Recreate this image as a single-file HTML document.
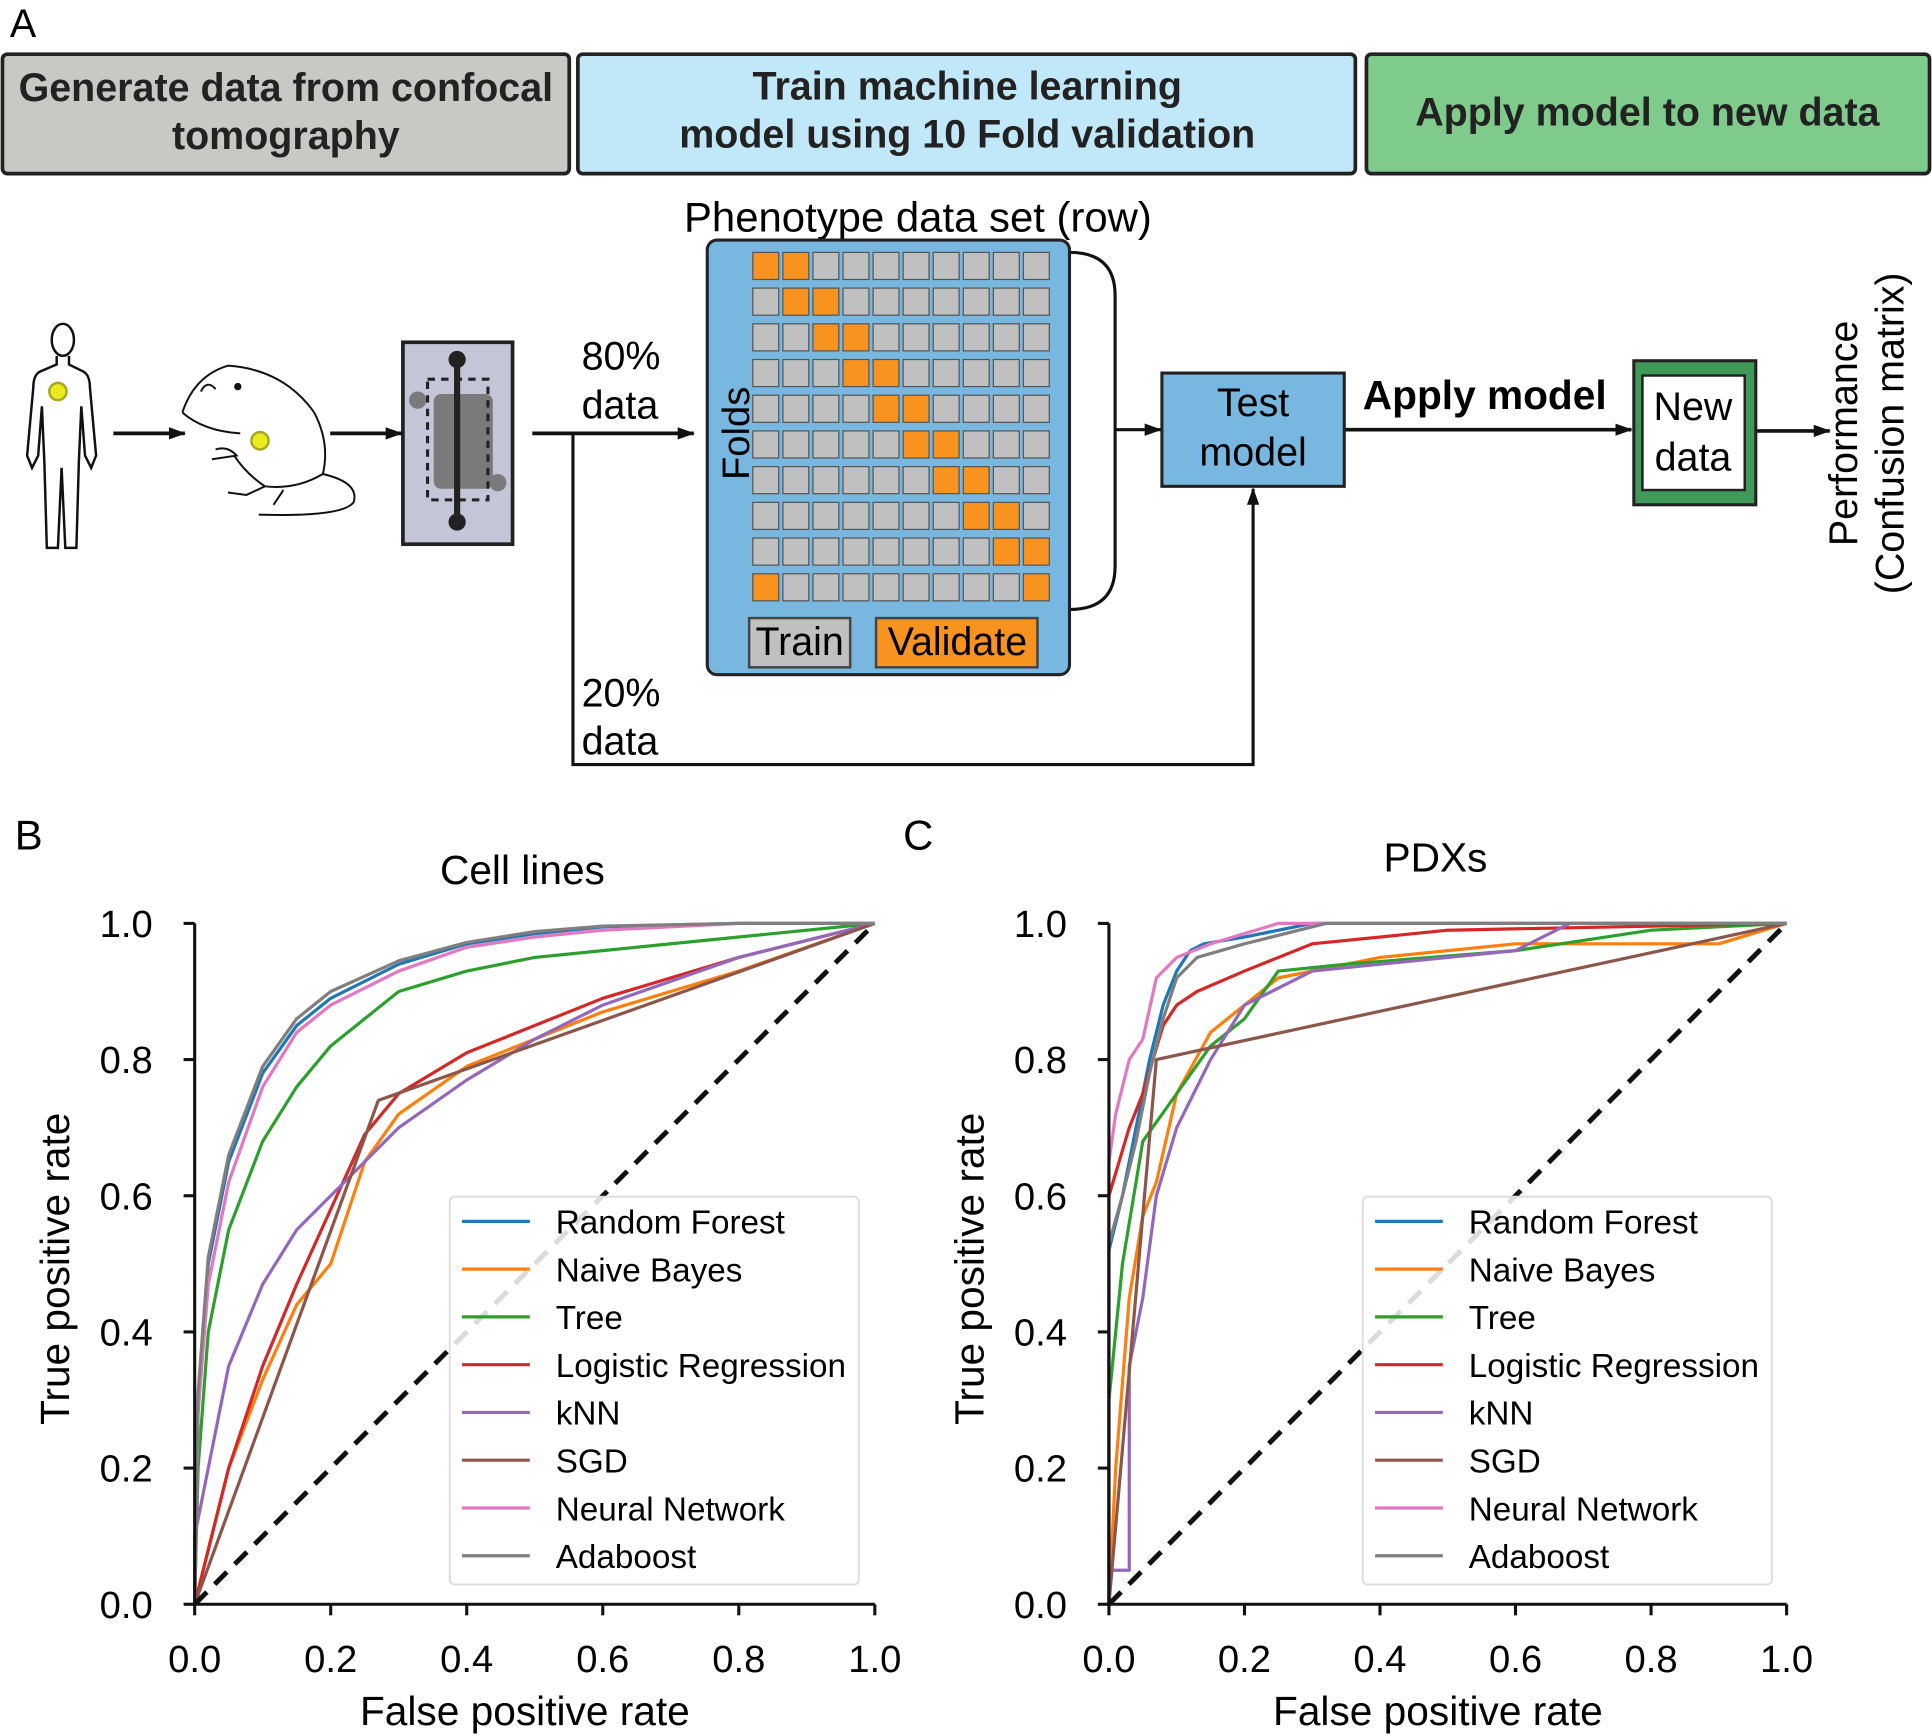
<!DOCTYPE html>
<html><head><meta charset="utf-8"><style>
html,body{margin:0;padding:0;background:#fff;}
svg{display:block;font-family:"Liberation Sans",Arial,sans-serif;}
</style></head><body>
<svg id="fig" width="1932" height="1736" viewBox="0 0 1568 1410" preserveAspectRatio="none" xmlns="http://www.w3.org/2000/svg">
<defs>
<marker id="ah" markerWidth="14" markerHeight="10" refX="13" refY="5" orient="auto" markerUnits="userSpaceOnUse"><path d="M0,0 L14,5 L0,10 z" fill="#111"/></marker>
</defs>
<rect width="1568" height="1410" fill="#fff"/>
<text x="8" y="30" font-size="32">A</text>
<g>
<rect x="2" y="44" width="460" height="97" rx="4" fill="#c8c8c4" stroke="#222" stroke-width="3"/>
<text x="232" y="82" font-size="32" font-weight="bold" text-anchor="middle" fill="#222">Generate data from confocal</text>
<text x="232" y="121" font-size="32" font-weight="bold" text-anchor="middle" fill="#222">tomography</text>
</g>
<g>
<rect x="469" y="44" width="631" height="97" rx="4" fill="#c0e8f8" stroke="#222" stroke-width="3"/>
<text x="785" y="81" font-size="32" font-weight="bold" text-anchor="middle" fill="#222">Train machine learning</text>
<text x="785" y="120" font-size="32" font-weight="bold" text-anchor="middle" fill="#222">model using 10 Fold validation</text>
</g>
<g>
<rect x="1109" y="44" width="457" height="97" rx="4" fill="#7ecb8c" stroke="#222" stroke-width="3"/>
<text x="1337" y="102" font-size="32" font-weight="bold" text-anchor="middle" fill="#222">Apply model to new data</text>
</g>
<g fill="none" stroke="#111" stroke-width="2">
<ellipse cx="51" cy="276" rx="9" ry="13"/>
<path d="M46,289 L46,296 L32,302 Q27,305 27,315 L22,370 L26,380 L31,370 L34,330 L36,375 L38,445 L47,445 L50,380 L53,445 L62,445 L64,375 L66,330 L69,370 L74,380 L78,370 L73,315 Q73,305 68,302 L56,296 L56,289"/>
<circle cx="47" cy="318" r="7" fill="#eaea20" stroke="#a8a820" stroke-width="2"/>
</g>
<g fill="none" stroke="#111" stroke-width="1.6">
<path d="M148,335 Q158,305 185,297 Q230,300 255,335 Q268,360 262,385"/>
<path d="M262,385 Q240,398 215,395 Q200,385 190,370"/>
<path d="M148,335 Q165,350 195,352"/>
<path d="M262,385 Q292,392 287,408 Q278,420 210,418"/>
<path d="M175,365 Q185,362 192,370 L172,373 M215,395 L200,402 L185,400 M230,398 L222,410"/>
<path d="M163,318 Q168,308 175,316"/>
<circle cx="193" cy="314" r="2.2" fill="#111"/>
<circle cx="211" cy="358" r="7" fill="#eaea20" stroke="#a8a820" stroke-width="2"/>
</g>
<g>
<rect x="327" y="278" width="89" height="164" fill="#c4c6d8" stroke="#222" stroke-width="3"/>
<rect x="352" y="320" width="48" height="77" rx="6" fill="#7a7a7a"/>
<circle cx="339" cy="325" r="7" fill="#7a7a7a"/><circle cx="404" cy="392" r="7" fill="#7a7a7a"/>
<rect x="347" y="308" width="49" height="98" fill="none" stroke="#222" stroke-width="2.5" stroke-dasharray="6,5"/>
<line x1="371" y1="292" x2="371" y2="424" stroke="#222" stroke-width="5"/>
<circle cx="371" cy="292" r="7" fill="#222"/><circle cx="371" cy="424" r="7" fill="#222"/>
</g>
<g stroke="#111" stroke-width="3" fill="none">
<line x1="92" y1="352" x2="150" y2="352" marker-end="url(#ah)"/>
<line x1="268" y1="352" x2="326" y2="352" marker-end="url(#ah)"/>
<line x1="432" y1="352" x2="563" y2="352" marker-end="url(#ah)"/>
<polyline points="465,352 465,621 1017,621 1017,397" stroke-width="2.5" marker-end="url(#ah)"/>
<path d="M868,205 Q905,205 905,240 L905,460 Q905,495 868,495" stroke-width="2.5"/>
<line x1="905" y1="349" x2="942" y2="349" stroke-width="2.5" marker-end="url(#ah)"/>
<line x1="1091" y1="349" x2="1324" y2="349" marker-end="url(#ah)"/>
<line x1="1425" y1="350" x2="1485" y2="350" marker-end="url(#ah)"/>
</g>
<text x="472" y="300" font-size="32">80%</text>
<text x="472" y="340" font-size="32">data</text>
<text x="472" y="574" font-size="32">20%</text>
<text x="472" y="613" font-size="32">data</text>
<text x="745" y="188" font-size="34" text-anchor="middle">Phenotype data set (row)</text>
<g>
<rect x="574" y="195" width="294" height="353" rx="8" fill="#78b8e0" stroke="#222" stroke-width="2.5"/>
<text font-size="31" text-anchor="middle" transform="translate(608 352) rotate(-90)">Folds</text>
<g id="grid"></g>
<rect x="608" y="502" width="82" height="40" fill="#c0c0c0" stroke="#444" stroke-width="2"/>
<text x="649" y="532" font-size="32" text-anchor="middle">Train</text>
<rect x="711" y="502" width="131" height="40" fill="#f7931e" stroke="#444" stroke-width="2"/>
<text x="777" y="532" font-size="32" text-anchor="middle">Validate</text>
</g>
<g>
<rect x="943" y="303" width="148" height="92" fill="#78b8e0" stroke="#222" stroke-width="2.5"/>
<text x="1017" y="338" font-size="32" text-anchor="middle">Test</text>
<text x="1017" y="378" font-size="32" text-anchor="middle">model</text>
</g>
<text x="1205" y="332" font-size="33" font-weight="bold" text-anchor="middle">Apply model</text>
<g>
<rect x="1326" y="293" width="99" height="117" fill="#3f9a5a" stroke="#222" stroke-width="2.5"/>
<rect x="1333" y="305" width="83" height="93" fill="#fff" stroke="#222" stroke-width="2"/>
<text x="1374" y="341" font-size="32" text-anchor="middle">New</text>
<text x="1374" y="382" font-size="32" text-anchor="middle">data</text>
</g>
<g font-size="32" text-anchor="middle">
<text transform="translate(1507 352) rotate(-90)">Performance</text>
<text transform="translate(1545 352) rotate(-90)">(Confusion matrix)</text>
</g>
<text x="12" y="690" font-size="34">B</text>
<text x="733" y="690" font-size="34">C</text>
<g id="chartB"></g>
<g id="chartC"></g>
</svg>
<script>
const seriesNames = ["Random Forest","Naive Bayes","Tree","Logistic Regression","kNN","SGD","Neural Network","Adaboost"];
const cellFpr_RF = [0,0.005,0.02,0.05,0.1,0.15,0.2,0.3,0.4,0.5,0.6,0.8,1];
const cellTpr_RF = [0,0.3,0.5,0.65,0.78,0.85,0.89,0.94,0.97,0.985,0.995,1,1];
const cellFpr_NB = [0,0.05,0.1,0.15,0.2,0.25,0.3,0.4,0.5,0.6,0.8,1];
const cellTpr_NB = [0,0.2,0.33,0.44,0.5,0.65,0.72,0.79,0.83,0.87,0.93,1];
const cellFpr_Tree = [0,0.005,0.02,0.05,0.1,0.15,0.2,0.3,0.4,0.5,0.6,0.8,1];
const cellTpr_Tree = [0,0.2,0.4,0.55,0.68,0.76,0.82,0.9,0.93,0.95,0.96,0.98,1];
const cellFpr_LR = [0,0.05,0.1,0.15,0.2,0.25,0.3,0.4,0.5,0.6,0.8,1];
const cellTpr_LR = [0,0.2,0.35,0.47,0.58,0.69,0.75,0.81,0.85,0.89,0.95,1];
const cellFpr_kNN = [0,0,0.05,0.1,0.15,0.2,0.25,0.3,0.4,0.5,0.6,0.8,1];
const cellTpr_kNN = [0,0.1,0.35,0.47,0.55,0.6,0.65,0.7,0.77,0.83,0.88,0.95,1];
const cellFpr_SGD = [0,0.27,1];
const cellTpr_SGD = [0,0.74,1];
const cellFpr_NN = [0,0.005,0.02,0.05,0.1,0.15,0.2,0.3,0.4,0.5,0.6,0.8,1];
const cellTpr_NN = [0,0.28,0.47,0.62,0.76,0.84,0.88,0.93,0.965,0.98,0.99,1,1];
const cellFpr_Ada = [0,0.005,0.02,0.05,0.1,0.15,0.2,0.3,0.4,0.5,0.6,0.8,1];
const cellTpr_Ada = [0,0.31,0.51,0.66,0.79,0.86,0.9,0.945,0.972,0.988,0.996,1,1];
const pdxFpr_RF = [0,0,0.02,0.04,0.06,0.08,0.1,0.12,0.14,0.2,0.3,1];
const pdxTpr_RF = [0,0.52,0.6,0.7,0.8,0.88,0.93,0.96,0.97,0.98,1,1];
const pdxFpr_NB = [0,0.01,0.03,0.05,0.07,0.1,0.15,0.25,0.4,0.6,0.9,1];
const pdxTpr_NB = [0,0.2,0.45,0.57,0.62,0.75,0.84,0.92,0.95,0.97,0.97,1];
const pdxFpr_Tree = [0,0,0.02,0.05,0.1,0.15,0.2,0.25,0.35,0.6,0.8,1];
const pdxTpr_Tree = [0,0.3,0.5,0.68,0.75,0.82,0.86,0.93,0.94,0.96,0.99,1];
const pdxFpr_LR = [0,0,0.03,0.05,0.08,0.1,0.13,0.2,0.3,0.5,1];
const pdxTpr_LR = [0,0.6,0.7,0.75,0.85,0.88,0.9,0.93,0.97,0.99,1];
const pdxFpr_kNN = [0,0,0.03,0.03,0.05,0.07,0.1,0.15,0.2,0.3,0.6,0.68,1];
const pdxTpr_kNN = [0,0.05,0.05,0.35,0.45,0.6,0.7,0.8,0.88,0.93,0.96,1,1];
const pdxFpr_SGD = [0,0.07,1];
const pdxTpr_SGD = [0,0.8,1];
const pdxFpr_NN = [0,0,0.01,0.03,0.05,0.07,0.1,0.15,0.25,1];
const pdxTpr_NN = [0,0.65,0.72,0.8,0.83,0.92,0.95,0.97,1,1];
const pdxFpr_Ada = [0,0,0.02,0.04,0.06,0.08,0.1,0.13,0.2,0.32,1];
const pdxTpr_Ada = [0,0.53,0.6,0.68,0.78,0.86,0.92,0.95,0.97,1,1];
const tickLabels = ["0.0","0.2","0.4","0.6","0.8","1.0"];
const tickValues = [0,0.2,0.4,0.6,0.8,1];
const colors = ["#1f77b4","#ff7f0e","#2ca02c","#d62728","#9467bd","#8c564b","#e377c2","#7f7f7f"];

const NS="http://www.w3.org/2000/svg";
function mk(tag,attrs,parent){const e=document.createElementNS(NS,tag);for(const k in attrs)e.setAttribute(k,attrs[k]);if(parent)parent.appendChild(e);return e;}

const grid=document.getElementById('grid');
for(let r=0;r<10;r++){for(let c=0;c<10;c++){
  const orange = (r<9 && (c===r||c===r+1)) || (r===9 && (c===0||c===9));
  const cell=mk('rect',{x:611+c*24.4,y:205+r*29,width:21,height:22,fill:orange?'#f7931e':'#c0c0c0',stroke:'#555','stroke-width':1},grid);
  
  
}}

function chart(gid,x0,x1,title,titleY,fprs,tprs,legX){
  const g=document.getElementById(gid);
  const y0=1303,y1=750;
  const sx=v=>x0+v*(x1-x0), sy=v=>y0-v*(y0-y1);
  const t=mk('text',{x:(x0+x1)/2-10,y:titleY,'font-size':33,'text-anchor':'middle'},g);t.textContent=title;
  
  
  for(let i=0;i<fprs.length;i++){
    const pts=fprs[i].map((f,j)=>sx(f)+','+sy(tprs[i][j])).join(' ');
    const p=mk('polyline',{points:pts,fill:'none',stroke:colors[i],'stroke-width':2.6,'stroke-linejoin':'round'},g);
    
    
  }
  const d=mk('line',{x1:sx(0),y1:sy(0),x2:sx(1),y2:sy(1),stroke:'#111','stroke-width':4,'stroke-dasharray':'14,9'},g);
  
  
  const lg=mk('g',{},g);
  
  
  mk('rect',{x:legX,y:972,width:332,height:315,rx:4,fill:'rgba(255,255,255,0.85)',stroke:'#ddd','stroke-width':1.5},lg);
  for(let i=0;i<seriesNames.length;i++){
    const yy=992+i*38.8;
    mk('line',{x1:legX+10,y1:yy,x2:legX+65,y2:yy,stroke:colors[i],'stroke-width':2.6},lg);
    const tx=mk('text',{x:legX+86,y:yy+10,'font-size':27},lg);tx.textContent=seriesNames[i];
    
    
  }
  const ax=mk('g',{stroke:'#111','stroke-width':2.5},g);
  
  
  mk('line',{x1:x0,y1:y0,x2:x1,y2:y0},ax);
  mk('line',{x1:x0,y1:y0,x2:x0,y2:y1},ax);
  tickValues.forEach((v,i)=>{
    mk('line',{x1:sx(v),y1:y0,x2:sx(v),y2:y0+9},ax);
    mk('line',{x1:x0,y1:sy(v),x2:x0-9,y2:sy(v)},ax);
    const tx=mk('text',{x:sx(v),y:y0+55,'font-size':31,'text-anchor':'middle'},g);tx.textContent=tickLabels[i];
    
    
    const ty=mk('text',{x:x0-34,y:sy(v)+11,'font-size':31,'text-anchor':'end'},g);ty.textContent=tickLabels[i];
    
    
  });
  const xl=mk('text',{x:(x0+x1)/2-8,y:1401,'font-size':33,'text-anchor':'middle'},g);xl.textContent='False positive rate';
  
  
  const yl=mk('text',{'font-size':33,'text-anchor':'middle',transform:`translate(${x0-102} ${(y0+y1)/2+4}) rotate(-90)`},g);yl.textContent='True positive rate';
  
  
}
chart('chartB',158,710,'Cell lines',718,
  [cellFpr_RF,cellFpr_NB,cellFpr_Tree,cellFpr_LR,cellFpr_kNN,cellFpr_SGD,cellFpr_NN,cellFpr_Ada],
  [cellTpr_RF,cellTpr_NB,cellTpr_Tree,cellTpr_LR,cellTpr_kNN,cellTpr_SGD,cellTpr_NN,cellTpr_Ada],365);
chart('chartC',900,1450,'PDXs',708,
  [pdxFpr_RF,pdxFpr_NB,pdxFpr_Tree,pdxFpr_LR,pdxFpr_kNN,pdxFpr_SGD,pdxFpr_NN,pdxFpr_Ada],
  [pdxTpr_RF,pdxTpr_NB,pdxTpr_Tree,pdxTpr_LR,pdxTpr_kNN,pdxTpr_SGD,pdxTpr_NN,pdxTpr_Ada],1106);
</script>
</body></html>
